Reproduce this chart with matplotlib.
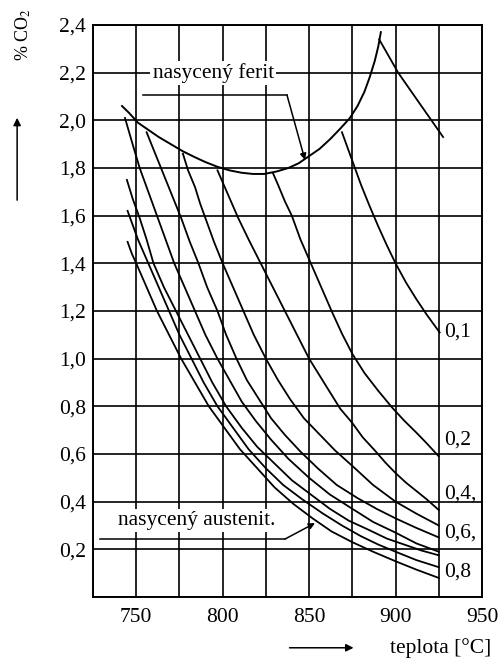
import matplotlib
matplotlib.use("Agg")
import matplotlib.pyplot as plt
from matplotlib.patches import FancyArrowPatch

plt.rcParams["font.family"] = ["Liberation Serif", "DejaVu Serif"]
plt.rcParams["mathtext.fontset"] = "stix"

# hranice nasyceného feritu (teplota [°C], % CO2)
ferrite_t = [741.8, 746, 751, 757, 763, 770, 777, 784, 790, 797, 804, 811, 817.5, 824,
             831, 838, 844, 850, 856, 862, 868, 873.6, 878, 882, 885, 888, 890, 891.5]
ferrite_co2 = [2.06, 2.03, 1.99, 1.96, 1.93, 1.90, 1.87, 1.845, 1.825, 1.805, 1.79, 1.78, 1.775, 1.775,
               1.785, 1.80, 1.82, 1.85, 1.88, 1.92, 1.965, 2.01, 2.06, 2.12, 2.18, 2.25, 2.31, 2.37]
branch_t = [890.5, 901.5, 914, 927.5]
branch_co2 = [2.34, 2.20, 2.07, 1.93]

# křivky stejného obsahu uhlíku v austenitu
c01_t = [869, 872, 876, 880, 885, 890, 895, 900, 906, 912, 918, 925.5]
c01_co2 = [1.95, 1.89, 1.81, 1.73, 1.64, 1.555, 1.475, 1.40, 1.32, 1.25, 1.185, 1.11]
c02_t = [829, 832, 836, 840, 845, 851, 857, 863, 869, 875, 882, 890, 898, 905, 912, 918, 925]
c02_co2 = [1.78, 1.73, 1.66, 1.60, 1.50, 1.40, 1.30, 1.20, 1.105, 1.02, 0.94, 0.865, 0.795, 0.74,
           0.69, 0.645, 0.59]
c04_t = [797, 803, 809, 815, 822, 829, 836, 843, 850, 856, 862, 868, 875, 881, 888, 894, 900, 906, 912, 918, 925]
c04_co2 = [1.79, 1.69, 1.59, 1.50, 1.40, 1.30, 1.20, 1.10, 1.00, 0.93, 0.86, 0.79, 0.73, 0.67, 0.615,
           0.565, 0.52, 0.48, 0.445, 0.41, 0.365]
c05_t = [777, 780, 784, 787, 790, 795, 800, 806, 812, 818, 825, 832, 839, 847, 855, 865, 875, 887, 900, 912, 925]
c05_co2 = [1.86, 1.79, 1.72, 1.65, 1.59, 1.49, 1.40, 1.30, 1.20, 1.10, 1.00, 0.91, 0.83, 0.75, 0.69,
           0.615, 0.55, 0.47, 0.40, 0.35, 0.30]
c06_t = [756, 761, 766, 771, 776, 781, 786, 791, 797, 802, 808, 814, 821, 828, 836, 845, 855, 866,
         878, 889, 900, 912, 925]
c06_co2 = [1.95, 1.86, 1.77, 1.68, 1.59, 1.49, 1.40, 1.30, 1.20, 1.10, 1.00, 0.91, 0.83, 0.75, 0.68,
           0.61, 0.54, 0.47, 0.415, 0.37, 0.33, 0.29, 0.25]
c07_t = [743.5, 747.5, 752, 757, 762, 767, 772, 778, 784, 790, 797, 804, 811, 819, 828, 838, 850, 862,
         875, 887, 900, 912, 925]
c07_co2 = [2.01, 1.91, 1.80, 1.70, 1.60, 1.50, 1.40, 1.30, 1.20, 1.10, 1.00, 0.91, 0.82, 0.74, 0.66,
           0.58, 0.50, 0.43, 0.37, 0.315, 0.27, 0.225, 0.19]
c08_t = [744.6, 748, 752, 756, 760, 766, 773, 780, 787, 794, 802, 811, 820, 830, 840, 851, 862, 873,
         885, 895, 905, 915, 925]
c08_co2 = [1.75, 1.67, 1.59, 1.50, 1.40, 1.30, 1.20, 1.10, 1.00, 0.90, 0.80, 0.71, 0.63, 0.56, 0.49,
           0.43, 0.37, 0.32, 0.28, 0.245, 0.22, 0.195, 0.175]
c09_t = [745, 748, 751, 757, 763, 769, 775, 782, 789, 797, 806, 815, 825, 835, 846, 858, 869, 880,
         890, 900, 912, 925]
c09_co2 = [1.62, 1.56, 1.50, 1.40, 1.30, 1.20, 1.10, 1.00, 0.90, 0.80, 0.71, 0.62, 0.54, 0.47, 0.41,
           0.35, 0.30, 0.255, 0.22, 0.19, 0.155, 0.125]
sat_t = [745, 747.5, 750, 756, 762, 769, 776, 784, 792, 801, 810, 820, 830, 841, 852, 863, 875, 887,
         900, 912, 925]
sat_co2 = [1.49, 1.44, 1.40, 1.30, 1.20, 1.10, 1.00, 0.90, 0.80, 0.71, 0.62, 0.54, 0.46, 0.39, 0.33,
           0.275, 0.23, 0.19, 0.15, 0.115, 0.08]

carbon_curves = [
    (c01_t, c01_co2), (c02_t, c02_co2), (c04_t, c04_co2), (c05_t, c05_co2),
    (c06_t, c06_co2), (c07_t, c07_co2), (c08_t, c08_co2), (c09_t, c09_co2),
    (sat_t, sat_co2),
]

carbon_labels = ["0,1", "0,2", "0,4,", "0,6,", "0,8"]
carbon_label_co2 = [1.11, 0.66, 0.43, 0.27, 0.105]

x_ticks = [725, 750, 775, 800, 825, 850, 875, 900, 925, 950]
x_tick_labels = ["", "750", "", "800", "", "850", "", "900", "", "950"]
y_ticks = [0.0, 0.2, 0.4, 0.6, 0.8, 1.0, 1.2, 1.4, 1.6, 1.8, 2.0, 2.2, 2.4]
y_tick_labels = ["", "0,2", "0,4", "0,6", "0,8", "1,0", "1,2", "1,4", "1,6", "1,8", "2,0", "2,2", "2,4"]

fig = plt.figure(figsize=(5.04, 6.61), dpi=100)
ax = fig.add_axes([93 / 504, 64 / 661, 389 / 504, 572 / 661])

ax.set_xlim(725, 950)
ax.set_ylim(0, 2.4)
ax.set_xticks(x_ticks)
ax.set_xticklabels(x_tick_labels)
ax.set_yticks(y_ticks)
ax.set_yticklabels(y_tick_labels)
ax.tick_params(length=0, labelsize=15.5, colors="black")
ax.tick_params(axis="x", pad=8)
ax.tick_params(axis="y", pad=5)
ax.grid(True, color="black", linewidth=1.2)
ax.set_axisbelow(True)
for spine in ax.spines.values():
    spine.set_linewidth(1.4)

ax.plot(ferrite_t, ferrite_co2, color="black", linewidth=1.4)
ax.plot(branch_t, branch_co2, color="black", linewidth=1.3)
for temps, co2 in carbon_curves:
    ax.plot(temps, co2, color="black", linewidth=1.3)

for label, level in zip(carbon_labels, carbon_label_co2):
    ax.text(928, level, label, fontsize=15.5, ha="left", va="center")

box = dict(facecolor="white", edgecolor="none", pad=1.5)
arrow = dict(arrowstyle="-|>", color="black", lw=1.1, mutation_scale=9, shrinkA=0, shrinkB=0)

ax.text(794.5, 2.2, "nasycený ferit", fontsize=15.5, ha="center", va="center", bbox=box)
ax.plot([753.9, 837.2], [2.106, 2.106], color="black", linewidth=1.1)
ax.annotate("", xy=(847.6, 1.834), xytext=(837.2, 2.106), arrowprops=arrow)

ax.text(785, 0.32, "nasycený austenit.", fontsize=15.5, ha="center", va="center", bbox=box)
ax.plot([729, 836], [0.243, 0.243], color="black", linewidth=1.1)
ax.annotate("", xy=(853.4, 0.31), xytext=(836, 0.243), arrowprops=arrow)

# popisky os se šipkami
fig.text(0.047, 0.948, "% CO$_2$", fontsize=13, rotation=90, ha="center", va="center")
fig.patches.append(FancyArrowPatch(
    (0.034, 0.693), (0.034, 0.826), transform=fig.transFigure,
    arrowstyle="-|>", mutation_scale=11, color="black", lw=1.1))

fig.text(0.774, 0.02, "teplota [°C]", fontsize=15.5, ha="left", va="center")
fig.patches.append(FancyArrowPatch(
    (0.569, 0.02), (0.707, 0.02), transform=fig.transFigure,
    arrowstyle="-|>", mutation_scale=11, color="black", lw=1.1))

fig.savefig("out.png", dpi=100)
